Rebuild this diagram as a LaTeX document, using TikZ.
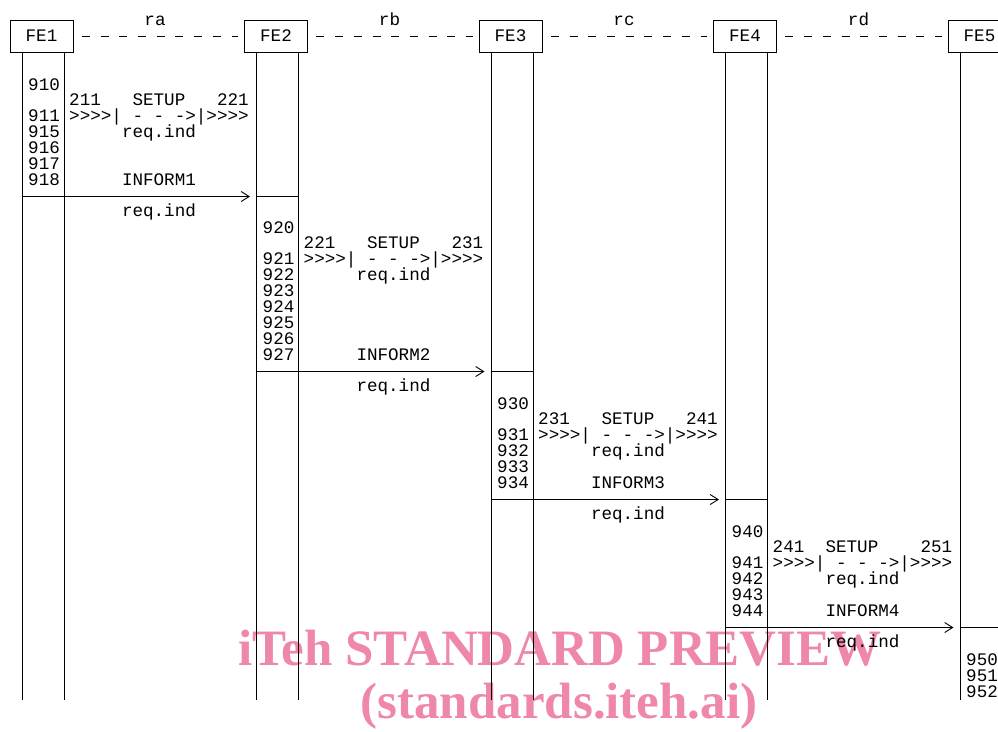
\documentclass[tikz,border=0pt]{standalone}
\usepackage{fontspec}
\newfontfamily\monofont{Liberation Mono}
\newfontfamily\wmfont{Liberation Serif}
\usetikzlibrary{arrows.meta}
\definecolor{wmpink}{RGB}{238,135,168}
\begin{document}
\begin{tikzpicture}[x=1pt,y=-1pt,
  txt/.style={font=\monofont\fontsize{17.6}{16}\selectfont, inner sep=0pt, anchor=base west},
  txtc/.style={txt, anchor=base},
  febox/.style={draw, line width=0.9pt, minimum width=63pt, minimum height=32pt, inner sep=0pt, font=\monofont\fontsize{17.6}{16}\selectfont},
  life/.style={line width=0.9pt},
  msg/.style={line width=0.9pt, -{Straight Barb[length=8pt,width=10pt,line width=0.9pt]}},
  iface/.style={line width=0.9pt, dash pattern=on 8pt off 10.7pt},
  wm/.style={font=\wmfont\bfseries\fontsize{51}{51}\selectfont, text=wmpink, inner sep=0pt, anchor=base}
]
\useasboundingbox (0,0) rectangle (998,731);
\clip (0,0) rectangle (998,731);

% watermark (background)
\node[wm] (wm1) at (560,665) {iTeh STANDARD PREVIEW};
\node[wm] (wm2) at (559,718) {(standards.iteh.ai)};

% functional entities and lifelines
\foreach \i in {1,...,5} {
  \node[febox] (fe\i) at ({41.5+(\i-1)*234.5},36) {FE\i};
  \draw[life] ([xshift=-19.5pt]fe\i.south) -- ++(0,648);
  \draw[life] ([xshift=22.5pt]fe\i.south) -- ++(0,648);
}

% relationships
\foreach \i/\j/\r in {1/2/ra,2/3/rb,3/4/rc,4/5/rd} {
  \draw[iface, shorten <=8.5pt, shorten >=6pt] (fe\i.east) -- (fe\j.west);
  \node[txtc] (lab\r) at ({155+(\i-1)*234.5},25) {\r};
}

% message sections
\foreach \k/\yz/\first/\la/\lb/\sc/\nums/\last in {
  1/90/910/211/221/6/{911,915,916,917,918}/5,
  2/233/920/221/231/6/{921,922,923,924,925,926,927}/7,
  3/409/930/231/241/6/{931,932,933,934}/4,
  4/537/940/241/251/5/{941,942,943,944}/4} {
  \pgfmathsetmacro\ox{(\k-1)*234.5}
  \pgfmathsetmacro\ay{\yz+31+16*(\last-1)+11.5}
  \node[txt] (num\k-0) at ({28+\ox},\yz) {\first};
  \foreach \n [count=\c] in \nums {
    \node[txt] (num\k-\c) at ({28+\ox},{\yz+31+16*(\c-1)}) {\n};
  }
  \node[txt] (sa\k) at ({69+\ox},{\yz+15.5}) {\la};
  \node[txt] (su\k) at ({69+\ox+\sc*10.56},{\yz+15.5}) {SETUP};
  \node[txt] (sb\k) at ({69+\ox+14*10.56},{\yz+15.5}) {\lb};
  \node[txt] (sl\k) at ({69+\ox},{\yz+31}) {>>>>|\ -\ -\ ->|>>>>};
  \node[txt] (ri\k) at ({69+\ox+5*10.56},{\yz+47}) {req.ind};
  \node[txt] (in\k) at ({69+\ox+5*10.56},{\yz+31+16*(\last-1)}) {INFORM\k};
  \node[txt] (ro\k) at ({69+\ox+5*10.56},{\ay+20}) {req.ind};
  \coordinate (fa\k) at ({22+\ox},\ay);
  \coordinate (fb\k) at ({256+\ox},\ay);
  \coordinate (fc\k) at ({298+\ox},\ay);
  \draw[msg, shorten >=6pt] (fa\k) -- (fb\k);
  \draw[life] (fb\k) -- (fc\k);
}

% FE5 numbers
\foreach \n [count=\c] in {950,951,952} {
  \node[txt] (num5-\c) at (966,{665+16*(\c-1)}) {\n};
}
\end{tikzpicture}
\end{document}
